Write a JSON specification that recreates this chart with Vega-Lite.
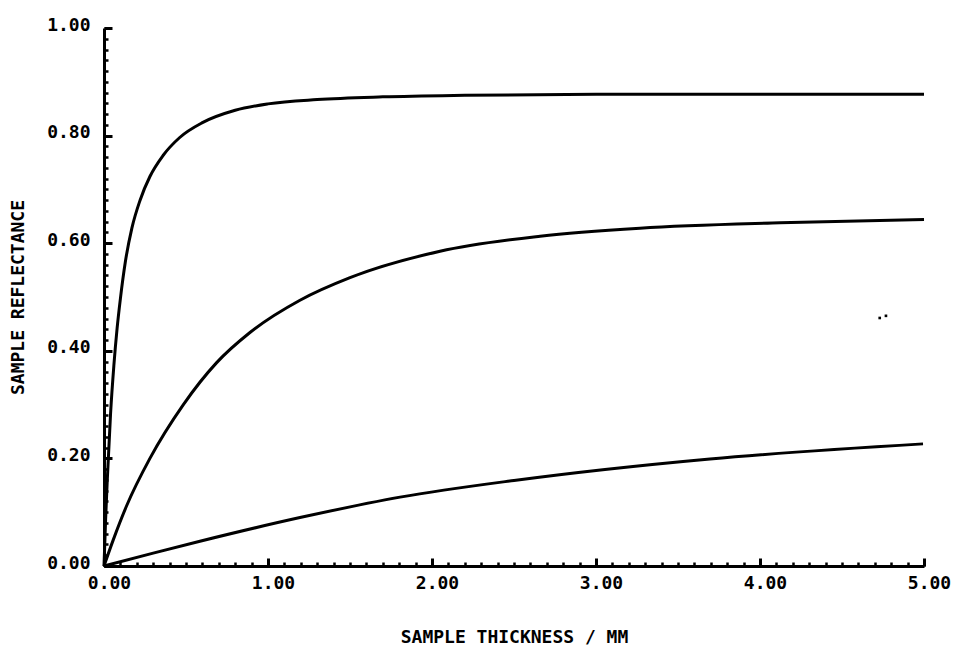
{
  "$schema": "https://vega.github.io/schema/vega-lite/v6.json",
  "width": 820,
  "height": 538,
  "autosize": {"type": "none"},
  "padding": {"left": 104, "top": 28, "right": 37, "bottom": 82},
  "background": "white",
  "config": {
    "view": {"stroke": null},
    "axis": {
      "labelFont": "DejaVu Sans Mono",
      "labelFontWeight": "bold",
      "labelFontSize": 18,
      "labelColor": "black",
      "titleFont": "DejaVu Sans Mono",
      "titleFontWeight": "bold",
      "titleFontSize": 18,
      "titleColor": "black",
      "domainColor": "black",
      "tickColor": "black",
      "grid": false,
      "labelFlush": false,
      "labelOverlap": false
    }
  },
  "datasets": {
    "curves": [
      {"curve": "A", "thickness": 0, "reflectance": 0},
      {"curve": "A", "thickness": 0.01, "reflectance": 0.088},
      {"curve": "A", "thickness": 0.02, "reflectance": 0.16},
      {"curve": "A", "thickness": 0.04, "reflectance": 0.283},
      {"curve": "A", "thickness": 0.06, "reflectance": 0.372},
      {"curve": "A", "thickness": 0.08, "reflectance": 0.442},
      {"curve": "A", "thickness": 0.1, "reflectance": 0.497},
      {"curve": "A", "thickness": 0.13, "reflectance": 0.565},
      {"curve": "A", "thickness": 0.17, "reflectance": 0.628},
      {"curve": "A", "thickness": 0.22, "reflectance": 0.68},
      {"curve": "A", "thickness": 0.28, "reflectance": 0.724},
      {"curve": "A", "thickness": 0.36, "reflectance": 0.763},
      {"curve": "A", "thickness": 0.46, "reflectance": 0.796},
      {"curve": "A", "thickness": 0.6, "reflectance": 0.824},
      {"curve": "A", "thickness": 0.8, "reflectance": 0.847},
      {"curve": "A", "thickness": 1.0, "reflectance": 0.859},
      {"curve": "A", "thickness": 1.3, "reflectance": 0.867},
      {"curve": "A", "thickness": 1.7, "reflectance": 0.872},
      {"curve": "A", "thickness": 2.2, "reflectance": 0.875},
      {"curve": "A", "thickness": 3.0, "reflectance": 0.877},
      {"curve": "A", "thickness": 4.0, "reflectance": 0.877},
      {"curve": "A", "thickness": 5.0, "reflectance": 0.877},
      {"curve": "B", "thickness": 0, "reflectance": 0},
      {"curve": "B", "thickness": 0.057, "reflectance": 0.049},
      {"curve": "B", "thickness": 0.138, "reflectance": 0.112},
      {"curve": "B", "thickness": 0.28, "reflectance": 0.2},
      {"curve": "B", "thickness": 0.484, "reflectance": 0.3},
      {"curve": "B", "thickness": 0.687, "reflectance": 0.378},
      {"curve": "B", "thickness": 0.89, "reflectance": 0.434},
      {"curve": "B", "thickness": 1.195, "reflectance": 0.494},
      {"curve": "B", "thickness": 1.5, "reflectance": 0.536},
      {"curve": "B", "thickness": 2.049, "reflectance": 0.585},
      {"curve": "B", "thickness": 2.659, "reflectance": 0.613},
      {"curve": "B", "thickness": 3.268, "reflectance": 0.628},
      {"curve": "B", "thickness": 4.122, "reflectance": 0.638},
      {"curve": "B", "thickness": 5.0, "reflectance": 0.644},
      {"curve": "C", "thickness": 0, "reflectance": 0},
      {"curve": "C", "thickness": 0.3, "reflectance": 0.024},
      {"curve": "C", "thickness": 0.585, "reflectance": 0.046},
      {"curve": "C", "thickness": 1.195, "reflectance": 0.09},
      {"curve": "C", "thickness": 1.805, "reflectance": 0.128},
      {"curve": "C", "thickness": 2.5, "reflectance": 0.159},
      {"curve": "C", "thickness": 3.695, "reflectance": 0.199},
      {"curve": "C", "thickness": 4.994, "reflectance": 0.227}
    ],
    "dots": [
      {"thickness": 4.73, "reflectance": 0.461},
      {"thickness": 4.768, "reflectance": 0.465}
    ]
  },
  "layer": [
    {
      "data": {"name": "curves"},
      "mark": {"type": "line", "color": "black", "strokeWidth": 3, "interpolate": "monotone"},
      "encoding": {
        "x": {
          "field": "thickness",
          "type": "quantitative",
          "scale": {"domain": [0, 5], "nice": false, "zero": true},
          "axis": {
            "orient": "bottom",
            "values": [0, 1, 2, 3, 4, 5],
            "format": ".2f",
            "tickSize": -8,
            "tickWidth": 3,
            "domainWidth": 3,
            "labelPadding": 16,
            "labelOffset": 5,
            "title": "SAMPLE THICKNESS / MM",
            "titleY": 71,
            "titleBaseline": "middle"
          }
        },
        "y": {
          "field": "reflectance",
          "type": "quantitative",
          "scale": {"domain": [0, 1], "nice": false},
          "axis": {
            "orient": "left",
            "values": [0, 0.2, 0.4, 0.6, 0.8, 1.0],
            "format": ".2f",
            "tickSize": -8,
            "tickWidth": 3,
            "domainWidth": 3,
            "labelPadding": 22,
            "labelOffset": -3,
            "title": "SAMPLE REFLECTANCE",
            "titleX": -86,
            "titleY": 269,
            "titleBaseline": "middle",
            "titleAlign": "center"
          }
        },
        "detail": {"field": "curve", "type": "nominal"}
      }
    },
    {
      "data": {"name": "dots"},
      "mark": {"type": "square", "color": "black", "size": 7, "opacity": 1},
      "encoding": {
        "x": {
          "field": "thickness",
          "type": "quantitative",
          "axis": {
            "orient": "bottom",
            "values": [0, 0.1, 0.2, 0.3, 0.4, 0.5, 0.6, 0.7, 0.8, 0.9, 1.0, 1.1, 1.2, 1.3, 1.4, 1.5, 1.6, 1.7, 1.8, 1.9, 2.0, 2.1, 2.2, 2.3, 2.4, 2.5, 2.6, 2.7, 2.8, 2.9, 3.0, 3.1, 3.2, 3.3, 3.4, 3.5, 3.6, 3.7, 3.8, 3.9, 4.0, 4.1, 4.2, 4.3, 4.4, 4.5, 4.6, 4.7, 4.8, 4.9, 5.0],
            "labels": false,
            "domain": false,
            "tickSize": -4,
            "tickWidth": 2.5,
            "title": null
          }
        },
        "y": {
          "field": "reflectance",
          "type": "quantitative",
          "axis": {
            "orient": "left",
            "values": [0, 0.02, 0.04, 0.06, 0.08, 0.1, 0.12, 0.14, 0.16, 0.18, 0.2, 0.22, 0.24, 0.26, 0.28, 0.3, 0.32, 0.34, 0.36, 0.38, 0.4, 0.42, 0.44, 0.46, 0.48, 0.5, 0.52, 0.54, 0.56, 0.58, 0.6, 0.62, 0.64, 0.66, 0.68, 0.7, 0.72, 0.74, 0.76, 0.78, 0.8, 0.82, 0.84, 0.86, 0.88, 0.9, 0.92, 0.94, 0.96, 0.98, 1.0],
            "labels": false,
            "domain": false,
            "tickSize": -4,
            "tickWidth": 2.5,
            "title": null
          }
        }
      }
    }
  ],
  "resolve": {"axis": {"x": "independent", "y": "independent"}}
}
